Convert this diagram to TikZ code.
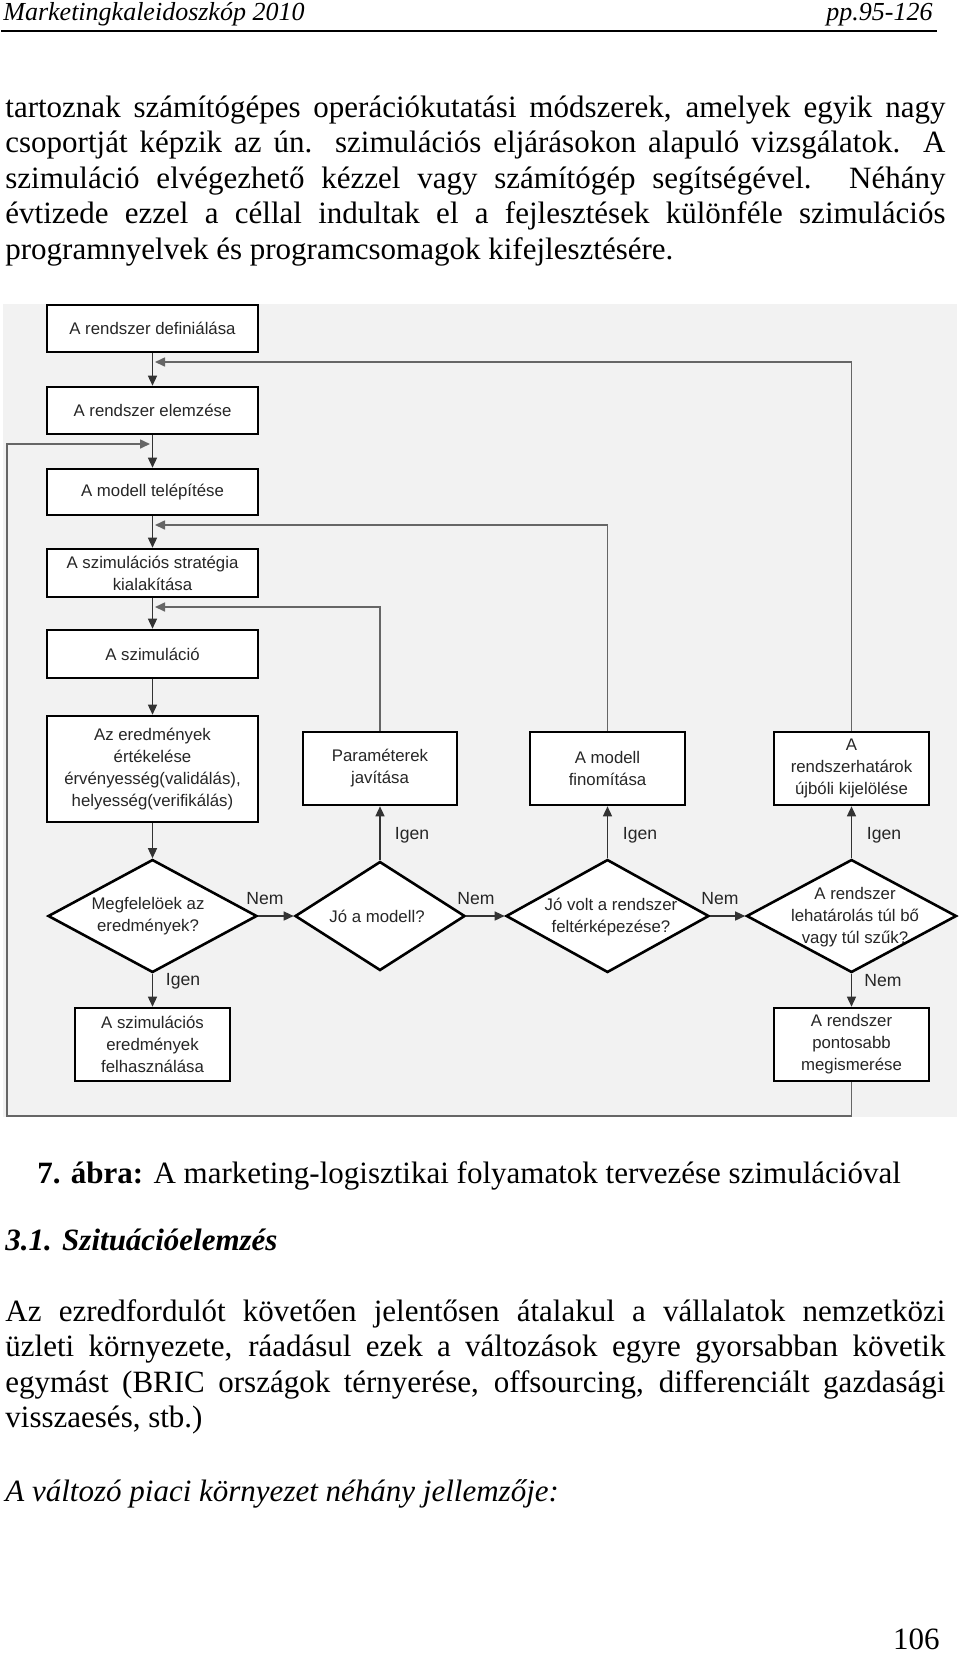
\documentclass[tikz,border=0pt]{standalone}
\usepackage{fontspec}
\setmainfont{Liberation Serif}
\newfontfamily\diagfont{Liberation Sans}
\usetikzlibrary{shapes.geometric,arrows.meta}
\newcommand{\dfs}{\diagfont\fontsize{8.4}{11}\selectfont}
\newcommand{\lfs}{\diagfont\fontsize{8.8}{11}\selectfont}
\newcommand{\jline}[1]{\makebox[470pt][s]{#1}}
\begin{document}
\begin{tikzpicture}[x=0.5pt,y=-0.5pt,
  txt/.style={anchor=base west, inner sep=0pt, font=\fontsize{15.5}{18}\selectfont},
  box/.style={draw=black, line width=1.3pt, fill=white, inner sep=0pt, align=center, font=\dfs, text=black!85},
  dia/.style={diamond, draw=black, line width=1.3pt, fill=white, inner sep=0pt},
  dtxt/.style={inner sep=0pt, align=center, font=\dfs, text=black!85},
  lab/.style={inner sep=0pt, font=\lfs, text=black!85},
  conn/.style={draw=black!80, line width=0.7pt, -{Triangle[length=5pt,width=4.5pt]}},
  fb/.style={draw=black!60, line width=0.8pt, -{Triangle[length=5pt,width=4.5pt]}}]
\useasboundingbox (0,0) rectangle (960,1655);
% header
\node[anchor=base west, inner sep=0pt, font=\fontsize{13}{15}\selectfont\itshape] (hdl) at (3,20) {Marketingkaleidoszkóp 2010};
\node[anchor=base east, inner sep=0pt, font=\fontsize{13}{15}\selectfont\itshape] (hdr) at (933,20) {pp.95-126};
\draw[line width=0.8pt] (1,31) -- (937,31);
% body text
\node[txt] (t1) at (5,117) {\jline{tartoznak számítógépes operációkutatási módszerek, amelyek egyik nagy}};
\node[txt] (t2) at (5,152.6) {\jline{csoportját képzik az ún. szimulációs eljárásokon alapuló vizsgálatok. A}};
\node[txt] (t3) at (5,188.2) {\jline{szimuláció elvégezhető kézzel vagy számítógép segítségével. Néhány}};
\node[txt] (t4) at (5,223.8) {\jline{évtizede ezzel a céllal indultak el a fejlesztések különféle szimulációs}};
\node[txt] (t5) at (5,259.4) {programnyelvek és programcsomagok kifejlesztésére.};
% diagram background
\fill[black!5] (3,304) rectangle (957,1117);
% boxes
\node[box, minimum width=105.5pt, minimum height=23.5pt] (b1) at (152.5,328.5) {A rendszer definiálása};
\node[box, minimum width=105.5pt, minimum height=23.5pt] (b2) at (152.5,410.5) {A rendszer elemzése};
\node[box, minimum width=105.5pt, minimum height=23pt] (b3) at (152.5,492) {A modell telépítése};
\node[box, minimum width=105.5pt, minimum height=24pt] (b4) at (152.5,573) {A szimulációs stratégia\\kialakítása};
\node[box, minimum width=105.5pt, minimum height=24pt] (b5) at (152.5,654) {A szimuláció};
\node[box, minimum width=105.5pt, minimum height=53pt] (b6) at (152.5,769) {Az eredmények\\értékelése\\érvényesség(validálás),\\helyesség(verifikálás)};
\node[box, minimum width=77.5pt, minimum height=36.5pt] (b7) at (152.5,1044.5) {A szimulációs\\eredmények\\felhasználása};
\node[box, minimum width=77pt, minimum height=36.5pt] (par) at (380,768.5) {Paraméterek\\javítása};
\node[box, minimum width=77.5pt, minimum height=36.5pt] (fin) at (607.5,768.5) {A modell\\finomítása};
\node[box, minimum width=77.5pt, minimum height=36.5pt] (hat) at (851.5,768.5) {A\\rendszerhatárok\\újbóli kijelölése};
\node[box, minimum width=77.5pt, minimum height=36.5pt] (pont) at (851.5,1044.5) {A rendszer\\pontosabb\\megismerése};
% diamonds
\node[dia, minimum width=104.5pt, minimum height=56.5pt] (d1) at (152.5,916) {};
\node[dia, minimum width=85pt, minimum height=54.5pt] (d2) at (380,916) {};
\node[dia, minimum width=101.5pt, minimum height=56.5pt] (d3) at (607.5,916) {};
\node[dia, minimum width=105pt, minimum height=56.5pt] (d4) at (851.5,916) {};
\node[dtxt] (d1t) at (148,916) {Megfelelöek az\\eredmények?};
\node[dtxt] (d2t) at (377,916) {Jó a modell?};
\node[dtxt] (d3t) at (611,917) {Jó volt a rendszer\\feltérképezése?};
\node[dtxt] (d4t) at (855,917) {A rendszer\\lehatárolás túl bő\\vagy túl szűk?};
% main flow
\draw[conn] (b1) -- (b2);
\draw[conn] (b2) -- (b3);
\draw[conn] (b3) -- (b4);
\draw[conn] (b4) -- (b5);
\draw[conn] (b5) -- (b6);
\draw[conn] (b6) -- (d1);
\draw[conn] (d1) -- (b7);
\draw[conn] (d1) -- (d2);
\draw[conn] (d2) -- (par);
\draw[conn] (d2) -- (d3);
\draw[conn] (d3) -- (fin);
\draw[conn] (d3) -- (d4);
\draw[conn] (d4) -- (hat);
\draw[conn] (d4) -- (pont);
% feedback lines
\coordinate (m1) at (155,362);
\coordinate (m2) at (155,525);
\coordinate (m3) at (155,607);
\coordinate (m0) at (150,444);
\coordinate (c1) at (851.5,1116);
\coordinate (c2) at (7,1116);
\coordinate (c3) at (7,444);
\draw[fb] (hat.north) |- (m1);
\draw[fb] (fin.north) |- (m2);
\draw[fb] (par.north) |- (m3);
\draw[fb] (pont.south) -- (c1) -- (c2) -- (c3) -- (m0);
% labels
\node[lab] (n1) at (265,899) {Nem};
\node[lab] (n2) at (476,899) {Nem};
\node[lab] (n3) at (720,899) {Nem};
\node[lab] (n4) at (883,981) {Nem};
\node[lab] (i1) at (183,981) {Igen};
\node[lab] (i2) at (412,835) {Igen};
\node[lab] (i3) at (640,835) {Igen};
\node[lab] (i4) at (884,835) {Igen};
% caption and following text
\node[txt] (cap) at (37,1183) {\textbf{7. ábra:} A marketing-logisztikai folyamatok tervezése szimulációval};
\node[txt, font=\fontsize{15.5}{18}\selectfont\bfseries\itshape] (sec) at (5,1250) {3.1. Szituációelemzés};
\node[txt] (q1) at (5,1321) {\jline{Az ezredfordulót követően jelentősen átalakul a vállalatok nemzetközi}};
\node[txt] (q2) at (5,1356.6) {\jline{üzleti környezete, ráadásul ezek a változások egyre gyorsabban követik}};
\node[txt] (q3) at (5,1392.2) {\jline{egymást (BRIC országok térnyerése, offsourcing, differenciált gazdasági}};
\node[txt] (q4) at (5,1427.8) {visszaesés, stb.)};
\node[txt, font=\fontsize{15.5}{18}\selectfont\itshape] (it) at (5,1501) {A változó piaci környezet néhány jellemzője:};
\node[anchor=base east, inner sep=0pt, font=\fontsize{15.5}{18}\selectfont] (pg) at (940,1649) {106};
\end{tikzpicture}
\end{document}
